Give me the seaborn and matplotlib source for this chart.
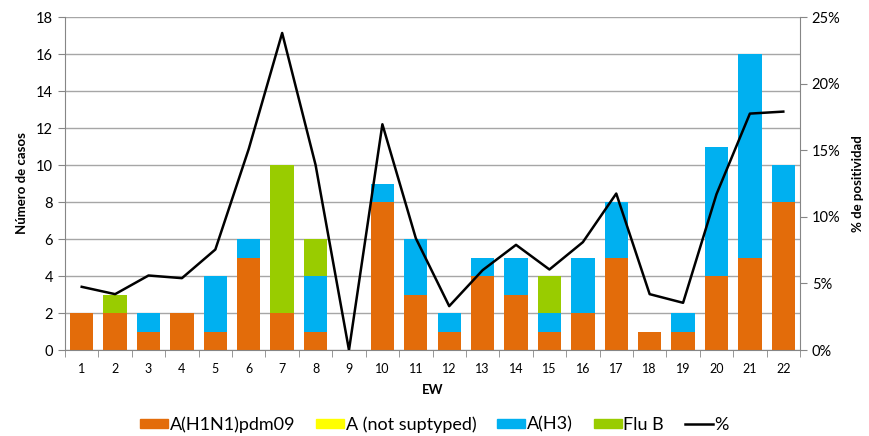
import numpy as np
import pandas as pd
import matplotlib
matplotlib.use('Agg')
import matplotlib.pyplot as plt
import seaborn as sns
from matplotlib.patches import Patch
from matplotlib.lines import Line2D
from matplotlib.ticker import FuncFormatter, FixedLocator

# Datos por semana epidemiológica
ew = [str(i) for i in range(1, 23)]
h1n1 = [2, 2, 1, 2, 1, 5, 2, 1, 0, 8, 3, 1, 4, 3, 1, 2, 5, 1, 1, 4, 5, 8]
a_not_subtyped = [0] * 22
h3 = [0, 0, 1, 0, 3, 1, 0, 3, 0, 1, 3, 1, 1, 2, 1, 3, 3, 0, 1, 7, 11, 2]
flu_b = [0, 1, 0, 0, 0, 0, 8, 2, 0, 0, 0, 0, 0, 0, 2, 0, 0, 0, 0, 0, 0, 0]
pct = [4.75, 4.2, 5.6, 5.4, 7.55, 15.1, 23.8, 13.9, 0.0, 16.95, 8.4, 3.3,
       6.0, 7.9, 6.05, 8.1, 11.75, 4.2, 3.55, 11.7, 17.75, 17.9]

colors = {'A(H1N1)pdm09': '#E36C0A', 'A (not suptyped)': '#FFFF00',
          'A(H3)': '#00B0F0', 'Flu B': '#99CC00'}

df = pd.DataFrame({'EW': ew, 'A(H1N1)pdm09': h1n1, 'A (not suptyped)': a_not_subtyped,
                   'A(H3)': h3, 'Flu B': flu_b})
# acumulados para apilar (se dibuja del total hacia abajo)
cum = df[['A(H1N1)pdm09', 'A (not suptyped)', 'A(H3)', 'Flu B']].cumsum(axis=1)

plt.rcParams['font.family'] = ['Lato', 'DejaVu Sans']
fig = plt.figure(figsize=(8.69, 4.36), dpi=100)
ax = fig.add_axes([0.0748, 0.197, 0.8458, 0.764])

for serie in ['Flu B', 'A(H3)', 'A (not suptyped)', 'A(H1N1)pdm09']:
    sns.barplot(x=df['EW'], y=cum[serie], color=colors[serie], width=0.7,
                saturation=1, ax=ax, zorder=2)

ax.set_xlim(-0.5, 21.5)
ax.set_ylim(0, 18)
ax.set_yticks(range(0, 19, 2))
ax.grid(axis='y', color='#A6A6A6', linewidth=1, zorder=0)
ax.set_axisbelow(True)
ax.xaxis.set_minor_locator(FixedLocator(np.arange(-0.5, 22, 1)))
ax.tick_params(axis='x', which='major', length=0, labelsize=9, pad=9)
ax.tick_params(axis='x', which='minor', length=5, color='#868686')
ax.tick_params(axis='y', length=5, color='#868686', labelsize=10.5)
for s in ['top', 'right']:
    ax.spines[s].set_visible(False)
for s in ['left', 'bottom']:
    ax.spines[s].set_color('#868686')
ax.set_xlabel('EW', fontweight='bold', fontsize=9.5, labelpad=7)
ax.set_ylabel('Número de casos', fontweight='bold', fontsize=9.5, labelpad=6)

ax2 = ax.twinx()
sns.lineplot(x=np.arange(len(ew)), y=pct, color='black', linewidth=1.8, ax=ax2)
ax2.set_ylim(0, 25)
ax2.set_yticks(range(0, 26, 5))
ax2.yaxis.set_major_formatter(FuncFormatter(lambda v, p: f'{int(v)}%'))
ax2.tick_params(axis='y', length=5, color='#868686', labelsize=10.5)
for s in ['top', 'left', 'bottom']:
    ax2.spines[s].set_visible(False)
ax2.spines['right'].set_color('#868686')
ax2.set_ylabel('% de positividad', fontweight='bold', fontsize=9.5, labelpad=8)

handles = [Patch(color=colors[k], label=k) for k in colors]
handles.append(Line2D([0], [0], color='black', linewidth=1.8, label='%'))
fig.legend(handles=handles, loc='lower center', bbox_to_anchor=(0.5, -0.03),
           ncol=5, frameon=False, fontsize=13, handlelength=1.55, handleheight=0.4,
           handletextpad=0.1, columnspacing=1.15)

fig.savefig('out.png', dpi=100)
